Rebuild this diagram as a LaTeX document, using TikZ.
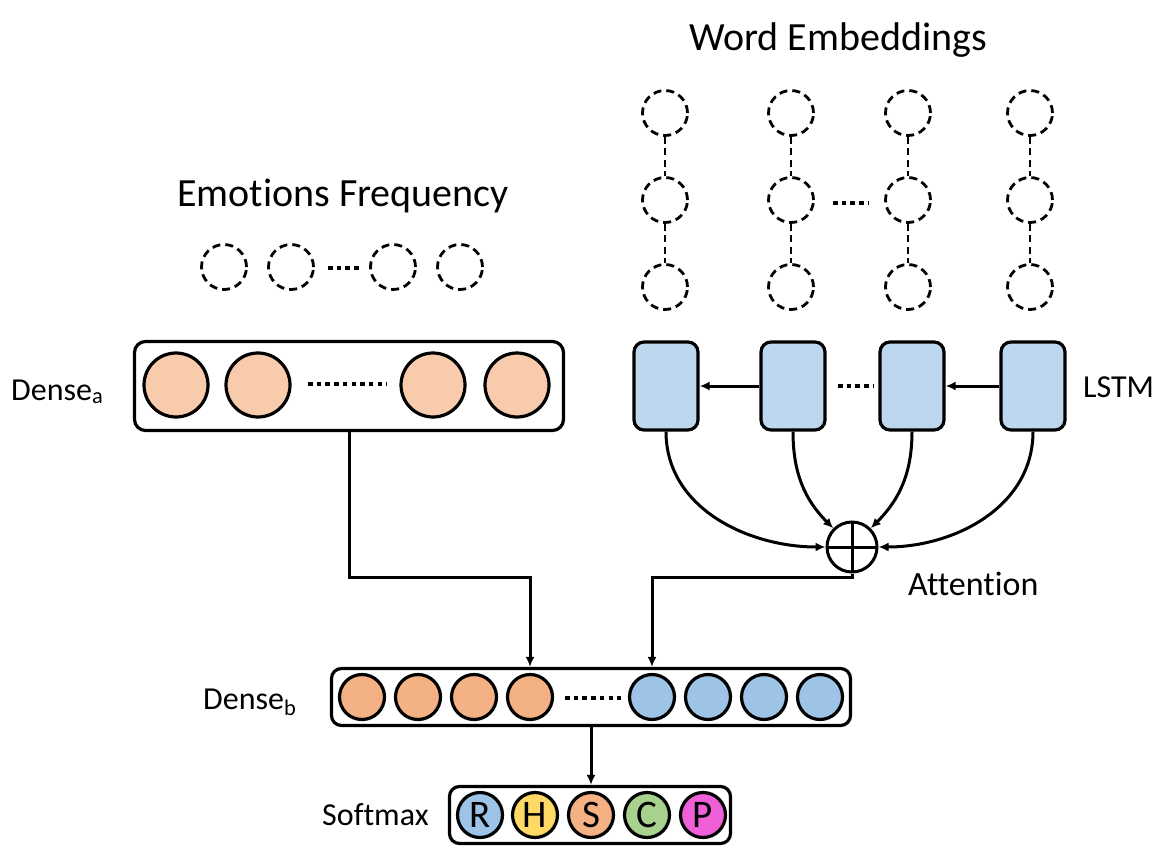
\documentclass[tikz,border=0pt]{standalone}
\usepackage{fontspec}
\setmainfont{Carlito}[Ligatures=NoCommon]
\usetikzlibrary{arrows.meta}
\definecolor{peachA}{HTML}{F8CBAD}
\definecolor{orangeB}{HTML}{F4B183}
\definecolor{blueB}{HTML}{9DC3E6}
\definecolor{lstmblue}{HTML}{BDD7EE}
\definecolor{yel}{HTML}{FFD966}
\definecolor{grn}{HTML}{A9D18E}
\definecolor{mag}{HTML}{EE5FD8}
\begin{document}
\begin{tikzpicture}[x=1pt,y=-1pt,
  title/.style={font=\fontsize{40}{48}\selectfont, inner sep=0pt},
  lab/.style={font=\fontsize{32}{38}\selectfont, inner sep=0pt},
  dcirc/.style={circle, draw, dash pattern=on 8pt off 5pt, line width=2.8pt, minimum size=45pt, inner sep=0pt},
  dline/.style={draw, dash pattern=on 7pt off 4.5pt, line width=2.8pt},
  dotrow/.style={draw, line width=4.5pt, dash pattern=on 4.5pt off 4.2pt},
  ncirc/.style={circle, draw, line width=3.2pt, inner sep=0pt},
  box/.style={draw, line width=3.2pt, rounded corners=11pt, inner sep=0pt},
  lstmbox/.style={box, fill=lstmblue, minimum width=64pt, minimum height=88pt, rounded corners=10pt},
  arr/.style={draw, line width=3pt, -{Latex[length=10pt,width=9pt]}},
  att/.style={circle, draw, line width=3pt, minimum size=50pt, inner sep=0pt,
    path picture={\draw[line width=3pt] (path picture bounding box.north) -- (path picture bounding box.south)
      (path picture bounding box.west) -- (path picture bounding box.east);}},
  letter/.style={ncirc, minimum size=45pt, font=\fontsize{39}{44}\selectfont}
]
\fill[white] (0,0) rectangle (1167,861);
\useasboundingbox (0,0) rectangle (1167,861);

% titles
\node[title, anchor=base] (tw) at (838,51) {Word Embeddings};
\node[title, anchor=base] (te) at (343,207) {Emotions Frequency};

% emotions frequency inputs
\foreach \x [count=\i] in {224,291,393,460} \node[dcirc] (e\i) at (\x,267) {};
\draw[dotrow] (328,268) -- (362,268);

% word embeddings
\foreach \x [count=\i] in {665,791,908,1030} {
  \node[dcirc] (wa\i) at (\x,113) {};
  \node[dcirc] (wb\i) at (\x,200) {};
  \node[dcirc] (wc\i) at (\x,287) {};
  \draw[dline] (wa\i) -- (wb\i);
  \draw[dline] (wb\i) -- (wc\i);
}
\draw[dotrow] (833,203) -- (868,203);

% Dense a
\node[box, minimum width=429pt, minimum height=89pt] (da) at (349,386) {};
\foreach \x [count=\i] in {176,258,433,517} \node[ncirc, fill=peachA, minimum size=64pt] (a\i) at (\x,385) {};
\draw[dotrow] (308,384) -- (387,384);
\node[lab, anchor=base west] (lda) at (11,400) {Dense\textsubscript{a}};

% LSTM
\foreach \x [count=\i] in {666,793,912,1033} \node[lstmbox] (l\i) at (\x,386) {};
\draw[arr] (l2.west) -- (l1.east);
\draw[arr] (l4.west) -- (l3.east);
\draw[dotrow] (838,386) -- (873,386);
\node[lab, anchor=base west] (llstm) at (1083,397) {LSTM};

% attention
\node[att] (att) at (852,547) {};
\node[lab, anchor=base west, font=\fontsize{34}{40}\selectfont] (latt) at (908,595) {Attention};
\draw[arr] (l1.south) to[out=-90,in=180] (att.west);
\draw[arr] (l2.south) to[out=-90,in=135] (att.135);
\draw[arr] (l3.south) to[out=-90,in=45] (att.45);
\draw[arr] (l4.south) to[out=-90,in=0] (att.east);

% Dense b
\node[box, minimum width=519pt, minimum height=57pt, rounded corners=10pt] (db) at (591,697) {};
\foreach \x [count=\i] in {362,418,474,530} \node[ncirc, fill=orangeB, minimum size=45pt] (b\i) at (\x,697) {};
\foreach \x [count=\i from 5] in {652,708,764,820} \node[ncirc, fill=blueB, minimum size=45pt] (b\i) at (\x,697) {};
\draw[dotrow] (565,698) -- (621,698);
\node[lab, anchor=base west] (ldb) at (203,709) {Dense\textsubscript{b}};

\draw[arr] (da.south) -- ++(0,145) -| (db.north -| b4);
\draw[arr] (att.south) -- ++(0,4) -| (db.north -| b5);

% Softmax
\node[box, minimum width=281pt, minimum height=57pt, rounded corners=10pt] (sm) at (590,815) {};
\node[letter, fill=blueB] (s1) at (480,815) {R};
\node[letter, fill=yel] (s2) at (535,815) {H};
\node[letter, fill=orangeB] (s3) at (591,815) {S};
\node[letter, fill=grn] (s4) at (647,815) {C};
\node[letter, fill=mag] (s5) at (703,815) {P};
\node[lab, anchor=base west] (lsm) at (322,825) {Softmax};
\draw[arr] (db.south -| s3) -- (sm.north -| s3);
\end{tikzpicture}
\end{document}
